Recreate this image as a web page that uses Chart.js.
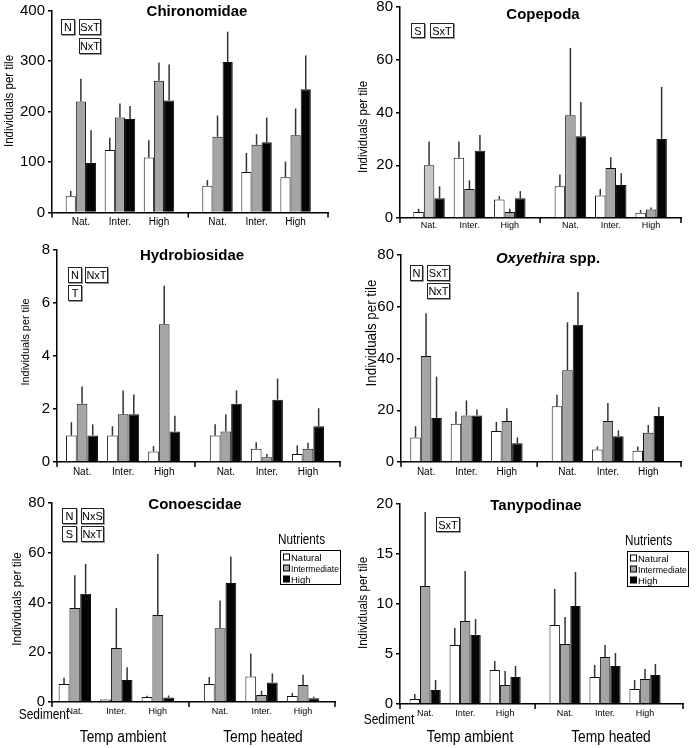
<!DOCTYPE html>
<html>
<head>
<meta charset="utf-8">
<title>Invertebrate abundance per tile</title>
<script src="https://cdn.jsdelivr.net/npm/chart.js@4.4.1/dist/chart.umd.min.js"></script>
<style>
  body { margin: 0; background: #fff; }
  #fig { position: relative; width: 697px; height: 748px; overflow: hidden;
         font-family: "Liberation Sans", Arial, sans-serif; color: #000; }
  #fig canvas { position: absolute; }
  .lbl { position: absolute; white-space: nowrap; transform: translate(-50%, -50%); z-index: 2; }
  .ttl { font-weight: bold; font-size: 15px; }
  .ylab { transform: translate(-50%, -50%) rotate(-90deg) scaleX(0.92); }
  .temp { font-size: 16px; transform: translate(-50%, -50%) scaleX(0.86); }
  .sed { font-size: 15px; transform: translate(-50%, -50%) scaleX(0.8); }
  .sig { position: absolute; box-sizing: border-box; border: 1px solid #222; box-shadow: 1px 1px 0 #999;
         font-size: 11px; display: flex; align-items: center; justify-content: center; background: #fff; z-index: 2; }
</style>
</head>
<body>
<div id="fig">
  <!-- panel titles -->
  <div class="lbl ttl" style="left:197px;top:10px">Chironomidae</div>
  <div class="lbl ttl" style="left:543px;top:13px">Copepoda</div>
  <div class="lbl ttl" style="left:192px;top:254px">Hydrobiosidae</div>
  <div class="lbl ttl" style="left:548px;top:257px"><i>Oxyethira</i> spp.</div>
  <div class="lbl ttl" style="left:195px;top:503px">Conoescidae</div>
  <div class="lbl ttl" style="left:536px;top:504px">Tanypodinae</div>

  <!-- y axis titles -->
  <div class="lbl ylab" style="left:9px;top:101px;font-size:12.5px">Individuals per tile</div>
  <div class="lbl ylab" style="left:363px;top:127px;font-size:12.5px">Individuals per tile</div>
  <div class="lbl ylab" style="left:25px;top:342px;font-size:11.8px">Individuals per tile</div>
  <div class="lbl ylab" style="left:371px;top:333px;font-size:14.5px">Individuals per tile</div>
  <div class="lbl ylab" style="left:17px;top:599px;font-size:12.7px">Individuals per tile</div>
  <div class="lbl ylab" style="left:363px;top:603px;font-size:12.5px">Individuals per tile</div>

  <!-- significance boxes -->
  <div class="sig" style="left:61px;top:19px;width:14px;height:16px">N</div>
  <div class="sig" style="left:79px;top:19px;width:22px;height:16px">SxT</div>
  <div class="sig" style="left:79px;top:38px;width:22px;height:16px">NxT</div>

  <div class="sig" style="left:411px;top:23px;width:14px;height:15px">S</div>
  <div class="sig" style="left:430px;top:23px;width:24px;height:15px">SxT</div>

  <div class="sig" style="left:68px;top:267px;width:14px;height:16px">N</div>
  <div class="sig" style="left:85px;top:267px;width:23px;height:16px">NxT</div>
  <div class="sig" style="left:68px;top:285px;width:14px;height:16px">T</div>

  <div class="sig" style="left:410px;top:265px;width:13px;height:16px">N</div>
  <div class="sig" style="left:427px;top:265px;width:23px;height:16px">SxT</div>
  <div class="sig" style="left:427px;top:283px;width:23px;height:16px">NxT</div>

  <div class="sig" style="left:62px;top:508px;width:15px;height:16px">N</div>
  <div class="sig" style="left:81px;top:508px;width:23px;height:16px">NxS</div>
  <div class="sig" style="left:62px;top:526px;width:15px;height:16px">S</div>
  <div class="sig" style="left:81px;top:526px;width:23px;height:16px">NxT</div>

  <div class="sig" style="left:436px;top:517px;width:24px;height:15px">SxT</div>

  <!-- bottom labels -->
  <div class="lbl sed" style="left:44px;top:713px">Sediment</div>
  <div class="lbl sed" style="left:389px;top:718px">Sediment</div>
  <div class="lbl temp" style="left:123px;top:737px">Temp ambient</div>
  <div class="lbl temp" style="left:263px;top:737px">Temp heated</div>
  <div class="lbl temp" style="left:470px;top:737px">Temp ambient</div>
  <div class="lbl temp" style="left:611px;top:737px">Temp heated</div>
</div>

<script>
// sediment level per group: ambient Nat/Inter/High, then heated Nat/Inter/High
const sediment = ['Nat.', 'Inter.', 'High', 'Nat.', 'Inter.', 'High'];
const nutrients = ['Natural', 'Intermediate', 'High'];

// Chironomidae means and top of error bars
const chiroNat = [32, 124, 109, 53, 80, 70];
const chiroInt = [220, 188, 261, 150, 134, 153];
const chiroHigh = [98, 185, 222, 298, 139, 244];
const chiroNatTop = [43, 148, 143, 64, 118, 101];
const chiroIntTop = [265, 216, 297, 192, 155, 206];
const chiroHighTop = [163, 211, 293, 358, 188, 311];
const chiroTicks = [0, 100, 200, 300, 400];

// Copepoda
const copeNat = [2.3, 22.8, 7, 12, 8.5, 2];
const copeInt = [20, 11, 2.3, 39, 19, 3.2];
const copeHigh = [7.5, 25.5, 7.5, 31, 12.5, 30];
const copeNatTop = [3.5, 29, 8.3, 16.5, 11, 3];
const copeIntTop = [29, 14.3, 3.5, 64.5, 23, 4];
const copeHighTop = [12, 31.5, 10.2, 44, 17, 49.7];
const copeTicks = [0, 20, 40, 60, 80];

// Hydrobiosidae
const hydroNat = [1.0, 1.0, 0.4, 1.0, 0.5, 0.3];
const hydroInt = [2.2, 1.8, 5.2, 1.15, 0.18, 0.5];
const hydroHigh = [1.0, 1.8, 1.15, 2.2, 2.35, 1.35];
const hydroNatTop = [1.5, 1.35, 0.6, 1.42, 0.75, 0.63];
const hydroIntTop = [2.85, 2.7, 6.65, 1.8, 0.3, 0.73];
const hydroHighTop = [1.42, 2.55, 1.75, 2.7, 3.15, 2.03];
const hydroTicks = [0, 2, 4, 6, 8];

// Oxyethira spp.
const oxyNat = [9.5, 14.8, 12, 21.5, 4.8, 4.3];
const oxyInt = [41, 18, 15.8, 35.5, 15.8, 11.3];
const oxyHigh = [17, 18, 7.2, 53, 10, 17.8];
const oxyNatTop = [13.8, 19.5, 15.5, 26, 6, 6];
const oxyIntTop = [57.5, 23.8, 20.8, 54, 22.8, 14.3];
const oxyHighTop = [33, 20.3, 9.5, 65.7, 12.2, 21.3];
const oxyTicks = [0, 20, 40, 60, 80];

// Conoescidae
const conoNat = [7.2, 1.0, 2.0, 7.2, 10.3, 2.4];
const conoInt = [37.8, 21.7, 35, 29.6, 2.8, 6.8];
const conoHigh = [43.5, 8.8, 1.8, 47.8, 7.8, 1.5];
const conoNatTop = [9.7, 1.1, 2.5, 10, 19.5, 3.6];
const conoIntTop = [51, 37.8, 59.5, 40.8, 4.5, 11];
const conoHighTop = [55.5, 14, 2.6, 58.5, 11.5, 2.1];
const conoTicks = [0, 20, 40, 60, 80];

// Tanypodinae
const tanyNat = [0.5, 5.9, 3.4, 7.9, 2.7, 1.5];
const tanyInt = [11.8, 8.3, 1.9, 6.0, 4.7, 2.5];
const tanyHigh = [1.4, 6.9, 2.7, 9.8, 3.8, 2.9];
const tanyNatTop = [1.0, 7.6, 4.3, 11.5, 3.9, 2.4];
const tanyIntTop = [19.2, 13.3, 3.3, 8.7, 5.9, 3.5];
const tanyHighTop = [2.4, 8.5, 3.8, 13.2, 5.1, 4.0];
const tanyTicks = [0, 5, 10, 15, 20];

const fills = ['#ffffff', '#a5a5a5', '#050505'];

// heated groups sit a bit further right than a plain category step
const groupX = i => i + (i >= 3 ? 0.5 : 0);

Chart.defaults.font.family = '"Liberation Sans", Arial, sans-serif';
Chart.defaults.color = '#000';

// upper error bars (mean + SE) drawn from the top of each bar
const errBars = {
  id: 'errBars',
  afterDatasetsDraw(chart) {
    const { ctx, scales: { y } } = chart;
    ctx.save();
    ctx.strokeStyle = '#333';
    ctx.lineWidth = 1.5;
    chart.data.datasets.forEach((ds, k) => {
      chart.getDatasetMeta(k).data.forEach((bar, i) => {
        ctx.beginPath();
        ctx.moveTo(bar.x, bar.y);
        ctx.lineTo(bar.x, y.getPixelForValue(ds.tops[i]));
        ctx.stroke();
      });
    });
    ctx.restore();
  }
};

// small downward ticks at the axis ends and between the temperature blocks
const tempTicks = {
  id: 'tempTicks',
  afterDraw(chart) {
    const { ctx, chartArea: a, scales: { x } } = chart;
    const xs = [x.min, (groupX(2) + groupX(3)) / 2, x.max];
    ctx.save();
    ctx.strokeStyle = '#000';
    ctx.lineWidth = 1.5;
    xs.forEach(v => {
      const px = x.getPixelForValue(v);
      ctx.beginPath();
      ctx.moveTo(px, a.bottom);
      ctx.lineTo(px, a.bottom + 5);
      ctx.stroke();
    });
    ctx.restore();
  }
};

// boxed "Nutrients" legend
const nutLegend = {
  id: 'nutLegend',
  afterDraw(chart, args, o) {
    if (!o.show) return;
    const ctx = chart.ctx;
    ctx.save();
    ctx.fillStyle = '#000';
    ctx.textBaseline = 'middle';
    ctx.font = '14px "Liberation Sans", Arial';
    ctx.fillText('Nutrients', o.x - 2, o.y - 10, 47);
    ctx.strokeStyle = '#000';
    ctx.lineWidth = 1;
    ctx.strokeRect(o.x + 0.5, o.y + 0.5, o.w, o.h);
    chart.data.datasets.forEach((ds, k) => {
      const yy = o.y + 7 + k * 11;
      ctx.fillStyle = fills[k];
      ctx.fillRect(o.x + 3.5, yy - 3, 6, 6);
      ctx.strokeRect(o.x + 3.5, yy - 3, 6, 6);
      ctx.fillStyle = '#000';
      ctx.font = '9.5px "Liberation Sans Narrow", "Liberation Sans", Arial';
      ctx.fillText(ds.label, o.x + 11, yy + 1, o.w - 12);
    });
    ctx.restore();
  }
};

const panels = [
  { means: [chiroNat, chiroInt, chiroHigh], tops: [chiroNatTop, chiroIntTop, chiroHighTop], ticks: chiroTicks,
    pos: { left: 0, top: -2, w: 348, h: 240 }, area: { l: 52, t: 12.5, r: 328, b: 214.5 }, xr: [-0.74, 6.33], cat: 10, gap: 4 },
  { means: [copeNat, copeInt, copeHigh], tops: [copeNatTop, copeIntTop, copeHighTop], ticks: copeTicks,
    pos: { left: 348, top: -5, w: 349, h: 250 }, area: { l: 52, t: 12, r: 333, b: 223 }, xr: [-0.72, 6.24], cat: 9, gap: 2,
    lightFirstGray: true },
  { means: [hydroNat, hydroInt, hydroHigh], tops: [hydroNatTop, hydroIntTop, hydroHighTop], ticks: hydroTicks,
    pos: { left: 0, top: 238, w: 348, h: 250 }, area: { l: 57, t: 12, r: 340, b: 224 }, xr: [-0.61, 6.28], cat: 10, gap: 4 },
  { means: [oxyNat, oxyInt, oxyHigh], tops: [oxyNatTop, oxyIntTop, oxyHighTop], ticks: oxyTicks,
    pos: { left: 348, top: 243, w: 349, h: 245 }, area: { l: 53, t: 12, r: 333, b: 219 }, xr: [-0.62, 6.31], cat: 10, gap: 4 },
  { means: [conoNat, conoInt, conoHigh], tops: [conoNatTop, conoIntTop, conoHighTop], ticks: conoTicks,
    pos: { left: 0, top: 491, w: 348, h: 257 }, area: { l: 52, t: 12, r: 335, b: 211 }, xr: [-0.55, 6.27], cat: 9, gap: 4,
    legend: { show: true, x: 280, y: 59, w: 60, h: 34 } },
  { means: [tanyNat, tanyInt, tanyHigh], tops: [tanyNatTop, tanyIntTop, tanyHighTop], ticks: tanyTicks,
    pos: { left: 348, top: 492, w: 349, h: 256 }, area: { l: 52, t: 12, r: 335, b: 212 }, xr: [-0.63, 6.45], cat: 9, gap: 4,
    legend: { show: true, x: 279, y: 59, w: 61, h: 35 } }
];

const fig = document.getElementById('fig');

panels.forEach(p => {
  const cv = document.createElement('canvas');
  cv.width = p.pos.w;
  cv.height = p.pos.h;
  Object.assign(cv.style, {
    left: p.pos.left + 'px', top: p.pos.top + 'px',
    width: p.pos.w + 'px', height: p.pos.h + 'px'
  });
  fig.appendChild(cv);

  const datasets = nutrients.map((name, k) => ({
    label: name,
    data: p.means[k].map((v, i) => ({ x: groupX(i), y: v })),
    tops: p.tops[k],
    backgroundColor: (k === 1 && p.lightFirstGray)
      ? p.means[k].map((v, i) => i === 0 ? '#c8c8c8' : fills[k])
      : fills[k],
    borderColor: '#111',
    borderWidth: 1,
    categoryPercentage: 0.78,
    barPercentage: 1
  }));

  new Chart(cv, {
    type: 'bar',
    data: { datasets },
    options: {
      responsive: false,
      animation: false,
      events: [],
      layout: { padding: { left: 0, top: p.area.t, right: p.pos.w - p.area.r, bottom: 0 } },
      plugins: {
        legend: { display: false },
        tooltip: { enabled: false },
        nutLegend: p.legend || { show: false }
      },
      scales: {
        x: {
          type: 'linear',
          min: p.xr[0],
          max: p.xr[1],
          offset: false,
          afterBuildTicks: s => { s.ticks = sediment.map((_, i) => ({ value: groupX(i) })); },
          afterFit: s => { s.height = p.pos.h - p.area.b; },
          ticks: {
            autoSkip: false,
            maxRotation: 0,
            padding: p.gap,
            font: { size: p.cat, family: '"Liberation Sans Narrow", "Liberation Sans", Arial' },
            callback: (v, i) => sediment[i]
          },
          grid: { display: false, drawTicks: false },
          border: { display: true, color: '#000', width: 1.5 }
        },
        y: {
          min: p.ticks[0],
          max: p.ticks[p.ticks.length - 1],
          afterBuildTicks: s => { s.ticks = p.ticks.map(v => ({ value: v })); },
          afterFit: s => { s.width = p.area.l; },
          ticks: { padding: 3, font: { size: 15 } },
          grid: { drawOnChartArea: false, drawTicks: true, tickLength: 4, color: '#000', lineWidth: 1.5 },
          border: { display: true, color: '#000', width: 1.5 }
        }
      }
    },
    plugins: [errBars, tempTicks, nutLegend]
  });
});
</script>
</body>
</html>
